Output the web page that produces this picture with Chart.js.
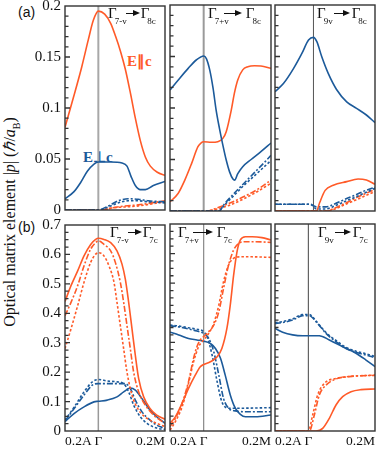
<!DOCTYPE html>
<html lang="en">
<head>
<meta charset="UTF-8">
<title>Optical matrix elements</title>
<script src="https://cdn.jsdelivr.net/npm/chart.js"></script>
<style>
  html, body { margin: 0; padding: 0; background: #fff; }
  #fig { position: relative; width: 382px; height: 450px; overflow: hidden; font-family: "Liberation Serif", serif; color: #111; }
  #fig canvas { position: absolute; }
  .lbl { position: absolute; white-space: nowrap; }
  .gam { font-size: 15px; line-height: 15px; }
  .gam sub { font-size: 9px; vertical-align: -6px; line-height: 0; margin-left: -2px; }
  .arrow { display: inline-block; position: relative; height: 7px; vertical-align: 1px; }
  .arrow::before { content: ''; position: absolute; left: 0; right: 5px; top: 3px; height: 1.2px; background: #111; }
  .arrow::after { content: ''; position: absolute; right: 0; top: 0; border-left: 7px solid #111; border-top: 3.5px solid transparent; border-bottom: 3.5px solid transparent; }
  .tag { font-family: "Liberation Sans", sans-serif; font-size: 14px; }
  .pol { font-weight: bold; font-size: 15px; line-height: 15px; }
  #ytitle { left: 10px; top: 222px; transform: translate(-50%, -50%) rotate(-90deg); font-size: 16px; }
  #ytitle sub { font-size: 10px; }
</style>
</head>
<body>
<div id="fig">
  <div class="lbl tag" style="left:18px;top:4px">(a)</div>
  <div class="lbl tag" style="left:18px;top:219px">(b)</div>
  <div class="lbl" id="ytitle">Optical matrix element |<i>p</i>| (<i>ℏ</i>/<i>a</i><sub>B</sub>)</div>
  <div class="lbl pol" style="left:127px;top:54px;color:#ff5a28">E∥c</div>
  <div class="lbl pol" style="left:83px;top:150px;color:#1c5a9a">E⊥c</div>
</div>
<script>
// x: 0.2 toward A = -1, Gamma = 0, 0.2 toward M = 2
const xTickValues = [-1, 0, 2];
const xTickLabels = ['0.2A', 'Γ', '0.2M'];
const yTicksTop = [0, 0.05, 0.1, 0.15, 0.2];
const yTicksBottom = [0, 0.1, 0.2, 0.3, 0.4, 0.5, 0.6, 0.7];
const panelTitles = [['7-v', '8c'], ['7+v', '8c'], ['9v', '8c'], ['7-v', '7c'], ['7+v', '7c'], ['9v', '7c']];

// (a) G7-v -> G8c
const a1ParSolid = [[-1,0.081],[-0.75,0.11],[-0.5,0.14],[-0.3,0.167],[-0.15,0.186],[0,0.195],[0.19,0.192],[0.37,0.183],[0.52,0.17],[0.67,0.155],[0.81,0.138],[0.96,0.115],[1.11,0.09],[1.26,0.068],[1.41,0.052],[1.56,0.043],[1.77,0.037],[2,0.034]];
const a1ParLong = [[-1,0],[0.1,0],[0.4,0.002],[0.8,0.004],[1.2,0.005],[1.6,0.007],[2,0.009]];
const a1ParShort = [[-1,0],[0.1,0],[0.4,0.002],[0.8,0.003],[1.2,0.004],[1.6,0.006],[2,0.008]];
const a1PerpSolid = [[-1,0.011],[-0.73,0.018],[-0.53,0.027],[-0.33,0.038],[-0.13,0.045],[0,0.047],[0.37,0.047],[0.71,0.046],[0.86,0.043],[0.98,0.033],[1.11,0.024],[1.26,0.02],[1.41,0.02],[1.65,0.024],[2,0.028]];
const a1PerpLong = [[-1,0],[0,0],[0.3,0.004],[0.6,0.009],[0.9,0.011],[1.2,0.0105],[1.5,0.009],[2,0.008]];
const a1PerpShort = [[-1,0],[0,0],[0.3,0.003],[0.6,0.007],[0.9,0.009],[1.2,0.009],[1.5,0.008],[2,0.007]];

// (a) G7+v -> G8c
const a2PerpSolid = [[-1,0.1175],[-0.76,0.127],[-0.46,0.1385],[-0.22,0.1466],[0,0.1505],[0.08,0.148],[0.18,0.137],[0.28,0.119],[0.37,0.098],[0.47,0.08],[0.57,0.064],[0.67,0.0495],[0.77,0.038],[0.87,0.031],[0.92,0.03],[1.01,0.036],[1.16,0.043],[1.41,0.05],[1.7,0.0576],[2,0.066]];
const a2PerpLong = [[-1,0],[0.45,0],[0.62,0.007],[0.9,0.017],[1.2,0.027],[1.5,0.037],[1.8,0.047],[2,0.054]];
const a2PerpShort = [[-1,0],[0.45,0],[0.62,0.006],[0.9,0.015],[1.2,0.025],[1.5,0.034],[1.8,0.043],[2,0.049]];
const a2ParSolid = [[-1,0.009],[-0.76,0.017],[-0.56,0.03],[-0.36,0.046],[-0.17,0.0625],[-0.07,0.0663],[0,0.0673],[0.23,0.0667],[0.42,0.0673],[0.57,0.0705],[0.67,0.077],[0.82,0.098],[0.91,0.114],[1.01,0.127],[1.16,0.137],[1.31,0.14],[1.51,0.141],[1.7,0.1408],[2,0.1385]];
const a2ParLong = [[-1,0],[0.1,0],[0.4,0.003],[0.8,0.008],[1.2,0.014],[1.6,0.021],[2,0.03]];
const a2ParShort = [[-1,0],[0.1,0],[0.4,0.002],[0.8,0.006],[1.2,0.012],[1.6,0.019],[2,0.027]];

// (a) G9v -> G8c
const a3PerpSolid = [[-1.25,0.1158],[-0.97,0.124],[-0.645,0.1385],[-0.376,0.153],[-0.16,0.166],[0,0.1686],[0.11,0.1644],[0.27,0.1497],[0.48,0.1336],[0.75,0.118],[1.08,0.106],[1.4,0.0997],[1.72,0.0932],[2,0.0858]];
const a3PerpLong = [[-1.25,0.0065],[-0.1,0.0065],[0.1,0.004],[0.4,0.004],[0.7,0.007],[1,0.011],[1.4,0.016],[1.7,0.02],[2,0.023]];
const a3PerpShort = [[-1.25,0.0065],[-0.1,0.0065],[0.1,0.002],[0.4,0.002],[0.7,0.005],[1,0.009],[1.4,0.014],[1.7,0.018],[2,0.022]];
const a3ParSolid = [[-1.25,0],[0.1,0],[0.2,0.008],[0.38,0.02],[0.645,0.025],[1.08,0.0285],[1.45,0.031],[1.72,0.03],[2,0.026]];
const a3ParLong = [[-1.25,0],[0.4,0],[0.7,0.003],[1,0.007],[1.4,0.013],[1.7,0.017],[2,0.021]];
const a3ParShort = [[-1.25,0],[0.4,0],[0.7,0.002],[1,0.006],[1.4,0.011],[1.7,0.015],[2,0.019]];

// (b) G7-v -> G7c
const b1ParSolid = [[-1,0.44],[-0.82,0.494],[-0.62,0.544],[-0.43,0.595],[-0.23,0.634],[-0.08,0.651],[0,0.655],[0.17,0.651],[0.37,0.64],[0.56,0.612],[0.71,0.567],[0.81,0.516],[0.91,0.437],[1.01,0.347],[1.11,0.257],[1.21,0.178],[1.36,0.116],[1.55,0.077],[1.75,0.054],[2,0.04]];
const b1ParLong = [[-1,0.392],[-0.82,0.437],[-0.62,0.494],[-0.43,0.561],[-0.23,0.618],[-0.08,0.64],[0,0.646],[0.17,0.634],[0.37,0.612],[0.51,0.573],[0.66,0.505],[0.76,0.437],[0.86,0.358],[0.96,0.279],[1.06,0.2],[1.21,0.133],[1.41,0.088],[1.66,0.054],[2,0.026]];
const b1ParShort = [[-1,0.28],[-0.82,0.347],[-0.62,0.426],[-0.43,0.505],[-0.23,0.573],[-0.08,0.601],[0,0.606],[0.17,0.595],[0.32,0.561],[0.47,0.505],[0.56,0.437],[0.66,0.358],[0.76,0.279],[0.86,0.2],[1.01,0.122],[1.21,0.071],[1.46,0.043],[1.75,0.026],[2,0.015]];
const b1PerpSolid = [[-1,0.032],[-0.72,0.06],[-0.43,0.082],[-0.13,0.099],[0,0.101],[0.27,0.105],[0.56,0.116],[0.76,0.133],[0.96,0.146],[1.11,0.139],[1.31,0.11],[1.55,0.071],[1.75,0.0485],[2,0.026]];
const b1PerpLong = [[-1,0.034],[-0.72,0.077],[-0.43,0.122],[-0.18,0.156],[0,0.161],[0.27,0.161],[0.56,0.161],[0.81,0.161],[0.96,0.144],[1.11,0.105],[1.31,0.065],[1.55,0.037],[1.75,0.02],[2,0.009]];
const b1PerpShort = [[-1,0.037],[-0.72,0.082],[-0.43,0.133],[-0.18,0.167],[0,0.175],[0.27,0.17],[0.56,0.167],[0.76,0.161],[0.91,0.133],[1.06,0.088],[1.26,0.048],[1.46,0.026],[1.75,0.01],[2,0.005]];

// (b) G7+v -> G7c
const b2ParSolid = [[-1,0.026],[-0.84,0.048],[-0.64,0.094],[-0.45,0.144],[-0.25,0.189],[-0.1,0.217],[0,0.225],[0.2,0.234],[0.4,0.251],[0.54,0.279],[0.69,0.347],[0.79,0.426],[0.89,0.527],[0.99,0.606],[1.09,0.646],[1.24,0.657],[1.44,0.657],[1.73,0.654],[2,0.646]];
const b2ParLong = [[-1,0.015],[-0.84,0.043],[-0.64,0.094],[-0.45,0.167],[-0.3,0.246],[-0.2,0.285],[-0.1,0.308],[0,0.319],[0.15,0.336],[0.3,0.358],[0.45,0.403],[0.59,0.482],[0.74,0.561],[0.89,0.612],[1.04,0.634],[1.24,0.64],[1.54,0.64],[2,0.638]];
const b2ParShort = [[-1,0.003],[-0.84,0.032],[-0.64,0.082],[-0.45,0.161],[-0.3,0.234],[-0.15,0.285],[0,0.308],[0.15,0.33],[0.3,0.364],[0.45,0.426],[0.59,0.505],[0.74,0.561],[0.89,0.584],[1.09,0.589],[1.44,0.589],[2,0.587]];
const b2PerpSolid = [[-1,0.334],[-0.74,0.325],[-0.45,0.313],[-0.2,0.308],[0,0.304],[0.2,0.296],[0.35,0.279],[0.5,0.246],[0.64,0.189],[0.79,0.122],[0.94,0.077],[1.09,0.056],[1.24,0.048],[1.54,0.048],[2,0.054]];
const b2PerpLong = [[-1,0.356],[-0.74,0.352],[-0.45,0.345],[-0.2,0.338],[0,0.33],[0.15,0.313],[0.3,0.268],[0.45,0.189],[0.59,0.11],[0.74,0.077],[0.94,0.068],[1.34,0.065],[2,0.065]];
const b2PerpShort = [[-1,0.358],[-0.74,0.355],[-0.45,0.349],[-0.2,0.344],[0,0.336],[0.1,0.319],[0.25,0.257],[0.4,0.167],[0.54,0.099],[0.74,0.077],[1.04,0.077],[2,0.079]];

// (b) G9v -> G7c
const b3PerpSolid = [[-1,0.347],[-0.77,0.334],[-0.47,0.325],[-0.17,0.322],[0.33,0.322],[0.63,0.308],[1.03,0.285],[1.43,0.263],[1.73,0.24],[2,0.2175]];
const b3PerpLong = [[-1,0.364],[-0.77,0.367],[-0.47,0.375],[-0.17,0.39],[0.03,0.39],[0.23,0.37],[0.53,0.33],[0.83,0.302],[1.13,0.279],[1.43,0.266],[1.73,0.257],[2,0.248]];
const b3PerpShort = [[-1,0.367],[-0.77,0.37],[-0.47,0.379],[-0.17,0.394],[0.03,0.394],[0.23,0.372],[0.53,0.333],[0.83,0.306],[1.13,0.283],[1.43,0.27],[1.73,0.261],[2,0.252]];
const b3ParSolid = [[-1,0],[0.23,0],[0.43,0.009],[0.63,0.043],[0.83,0.088],[1.03,0.116],[1.28,0.133],[1.58,0.14],[2,0.142]];
const b3ParLong = [[-1,0],[0.03,0],[0.18,0.054],[0.33,0.122],[0.53,0.155],[0.83,0.176],[1.23,0.184],[1.63,0.187],[2,0.188]];
const b3ParShort = [[-1,0],[0,0],[0.13,0.054],[0.28,0.122],[0.48,0.161],[0.83,0.178],[1.3,0.185],[2,0.189]];

const ORANGE = '#ff5a28';
const BLUE = '#1c5a9a';
const DASH = { solid: [], long: [6, 2, 2, 2], short: [2.5, 2] };

function line(data, color, dash) {
  return {
    data: data.map(p => ({ x: p[0], y: p[1] })),
    borderColor: color,
    borderWidth: 1.6,
    borderDash: DASH[dash],
    pointRadius: 0,
    cubicInterpolationMode: 'monotone',
    fill: false
  };
}

const panels = [
  { box: [65, 5, 100, 206], xMin: -1, yMax: 0.2, yTicks: yTicksTop, minor: 0.01, major: 0.05, yLabels: true, xLabels: false, gamma: ['#a8a8a8', 2],
    series: [line(a1ParSolid, ORANGE, 'solid'), line(a1PerpSolid, BLUE, 'solid'), line(a1PerpLong, BLUE, 'long'), line(a1PerpShort, BLUE, 'short'), line(a1ParLong, ORANGE, 'long'), line(a1ParShort, ORANGE, 'short')] },
  { box: [170, 5, 101, 206], xMin: -1, yMax: 0.2, yTicks: yTicksTop, minor: 0.01, major: 0.05, yLabels: false, xLabels: false, gamma: ['#9a9a9a', 2],
    series: [line(a2PerpSolid, BLUE, 'solid'), line(a2ParSolid, ORANGE, 'solid'), line(a2PerpLong, BLUE, 'long'), line(a2PerpShort, BLUE, 'short'), line(a2ParLong, ORANGE, 'long'), line(a2ParShort, ORANGE, 'short')] },
  { box: [275, 5, 100, 206], xMin: -1.25, yMax: 0.2, yTicks: yTicksTop, minor: 0.01, major: 0.05, yLabels: false, xLabels: false, gamma: ['#555', 1],
    series: [line(a3PerpSolid, BLUE, 'solid'), line(a3ParSolid, ORANGE, 'solid'), line(a3PerpLong, BLUE, 'long'), line(a3PerpShort, BLUE, 'short'), line(a3ParLong, ORANGE, 'long'), line(a3ParShort, ORANGE, 'short')] },
  { box: [65, 224, 100, 207], xMin: -1, yMax: 0.7, yTicks: yTicksBottom, minor: 0.025, major: 0.1, yLabels: true, xLabels: true, gamma: ['#999', 1.5],
    series: [line(b1ParSolid, ORANGE, 'solid'), line(b1ParLong, ORANGE, 'long'), line(b1ParShort, ORANGE, 'short'), line(b1PerpSolid, BLUE, 'solid'), line(b1PerpLong, BLUE, 'long'), line(b1PerpShort, BLUE, 'short')] },
  { box: [170, 224, 101, 207], xMin: -1, yMax: 0.7, yTicks: yTicksBottom, minor: 0.025, major: 0.1, yLabels: false, xLabels: true, gamma: ['#888', 1.2],
    series: [line(b2ParSolid, ORANGE, 'solid'), line(b2ParLong, ORANGE, 'long'), line(b2ParShort, ORANGE, 'short'), line(b2PerpSolid, BLUE, 'solid'), line(b2PerpLong, BLUE, 'long'), line(b2PerpShort, BLUE, 'short')] },
  { box: [275, 224, 100, 207], xMin: -1, yMax: 0.7, yTicks: yTicksBottom, minor: 0.025, major: 0.1, yLabels: false, xLabels: true, gamma: ['#444', 1],
    series: [line(b3ParSolid, ORANGE, 'solid'), line(b3ParLong, ORANGE, 'long'), line(b3ParShort, ORANGE, 'short'), line(b3PerpSolid, BLUE, 'solid'), line(b3PerpLong, BLUE, 'long'), line(b3PerpShort, BLUE, 'short')] }
];

// title placement: [left, top, arrow margin-left, arrow width, arrow margin-right]
const titlePos = [[108, 5.5, -1, 14, 1], [208, 5.5, -5, 18, 4], [317, 5.5, 1, 16, 2], [110, 224.5, -1, 14, 1], [178, 224.5, -6, 20, 4], [318, 224.5, 1, 16, 2]];

// Gamma line, frame and inward ticks
const panelFrame = {
  id: 'panelFrame',
  beforeDatasetsDraw(chart, args, opts) {
    const { ctx, chartArea: a, scales } = chart;
    const gx = scales.x.getPixelForValue(0);
    ctx.save();
    ctx.strokeStyle = opts.gamma[0];
    ctx.lineWidth = opts.gamma[1];
    ctx.beginPath();
    ctx.moveTo(gx, a.top);
    ctx.lineTo(gx, a.bottom);
    ctx.stroke();
    ctx.restore();
  },
  afterDatasetsDraw(chart, args, opts) {
    const { ctx, chartArea: a, scales } = chart;
    ctx.save();
    ctx.strokeStyle = '#333';
    ctx.lineWidth = 1.3;
    const n = Math.round(opts.yMax / opts.minor);
    const per = Math.round(opts.major / opts.minor);
    ctx.beginPath();
    for (let i = 1; i < n; i++) {
      const y = scales.y.getPixelForValue(i * opts.minor);
      ctx.moveTo(a.left, y);
      ctx.lineTo(a.left + (i % per === 0 ? 5 : 3.5), y);
    }
    ctx.stroke();
    ctx.lineWidth = 1.4;
    ctx.strokeRect(a.left, a.top, a.right - a.left, a.bottom - a.top);
    ctx.restore();
  }
};

Chart.defaults.font.family = '"Liberation Serif", serif';
Chart.defaults.font.size = 15;
Chart.defaults.color = '#111';

const PAD = 12, YW = 44, XH = 20;
const fig = document.getElementById('fig');

function fmt(v) { return String(Math.round(v * 1000) / 1000); }

panels.forEach((p, k) => {
  const [L, T, W, H] = p.box;
  const yw = p.yLabels ? YW : 0;
  const xh = p.xLabels ? XH : 0;
  const cv = document.createElement('canvas');
  cv.width = W + 2 * PAD + yw;
  cv.height = H + 2 * PAD + xh;
  cv.style.left = (L - PAD - yw) + 'px';
  cv.style.top = (T - PAD) + 'px';
  fig.appendChild(cv);

  new Chart(cv, {
    type: 'line',
    data: { datasets: p.series },
    options: {
      responsive: false,
      animation: false,
      devicePixelRatio: 1,
      layout: { padding: PAD },
      plugins: {
        legend: { display: false },
        tooltip: { enabled: false },
        panelFrame: { gamma: p.gamma, yMax: p.yMax, minor: p.minor, major: p.major }
      },
      scales: {
        x: {
          type: 'linear', min: p.xMin, max: 2, display: p.xLabels,
          grid: { display: false, drawTicks: false }, border: { display: false },
          afterBuildTicks: s => { s.ticks = xTickValues.map(v => ({ value: v })); },
          afterFit: s => { s.height = xh; },
          ticks: { align: 'inner', padding: 2, maxRotation: 0, autoSkip: false, font: { size: 13.5 },
                   callback: v => xTickLabels[xTickValues.indexOf(v)] }
        },
        y: {
          type: 'linear', min: 0, max: p.yMax, display: p.yLabels,
          grid: { display: false, drawTicks: false }, border: { display: false },
          afterBuildTicks: s => { s.ticks = p.yTicks.map(v => ({ value: v })); },
          afterFit: s => { s.width = yw; },
          ticks: { padding: 4, autoSkip: false, callback: v => fmt(v) }
        }
      }
    },
    plugins: [panelFrame]
  });

  const [tl, tt, am, aw, ar] = titlePos[k];
  const t = document.createElement('div');
  t.className = 'lbl gam';
  t.style.left = tl + 'px';
  t.style.top = tt + 'px';
  t.innerHTML = 'Γ<sub>' + panelTitles[k][0] + '</sub><span class="arrow" style="margin-left:' + am + 'px;width:' + aw + 'px;margin-right:' + ar + 'px"></span>Γ<sub>' + panelTitles[k][1] + '</sub>';
  fig.appendChild(t);
});
</script>
</body>
</html>
